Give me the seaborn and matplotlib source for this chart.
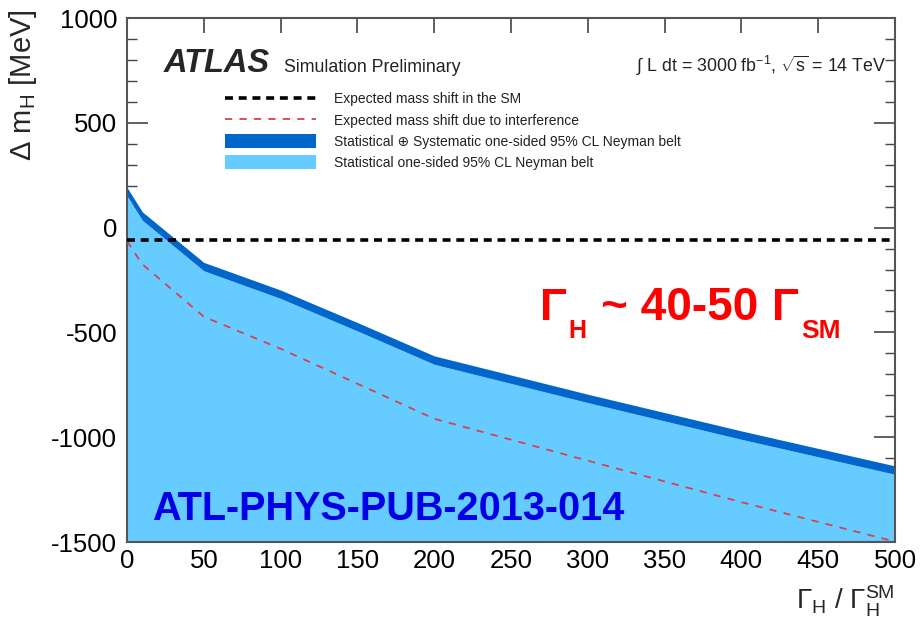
import numpy as np
import pandas as pd
import matplotlib
matplotlib.use("Agg")
import matplotlib.pyplot as plt
from matplotlib.lines import Line2D
from matplotlib.patches import Patch
from matplotlib.ticker import MultipleLocator
import seaborn as sns

# Width ratio Gamma_H / Gamma_H^SM
width_ratio = [0, 10, 50, 100, 150, 200, 300, 400, 500]
# Neyman belt edges [MeV]
belt_syst_upper = [192, 75, -166, -298, -453, -612, -795, -970, -1137]
belt_stat_upper = [152, 35, -206, -338, -493, -652, -835, -1010, -1177]
# Expected mass shift due to interference [MeV]
shift_interference = [-65, -175, -425, -578, -745, -912, -1112, -1310, -1498]
# Expected mass shift in the SM [MeV]
sm_ratio = [0, 500]
shift_sm = [-60, -60]

legend_labels = [
    "Expected mass shift in the SM",
    "Expected mass shift due to interference",
    "Statistical \u2295 Systematic one-sided 95% CL Neyman belt",
    "Statistical one-sided 95% CL Neyman belt",
]

sns.set_theme(style="ticks")
plt.rcParams["font.family"] = ["Liberation Sans", "DejaVu Sans"]
plt.rcParams["mathtext.fontset"] = "custom"
plt.rcParams["mathtext.rm"] = "Liberation Sans"
plt.rcParams["mathtext.it"] = "Liberation Sans:italic"
plt.rcParams["mathtext.bf"] = "Liberation Sans:bold"
plt.rcParams["axes.unicode_minus"] = False

DARK = "#0066CC"
LIGHT = "#66CCFF"
RED = "#D9404F"

fig = plt.figure(figsize=(9.21, 6.25), dpi=100)
ax = fig.add_axes([127 / 921, 1 - 542 / 625, (895 - 127) / 921, (542 - 18) / 625])

x = np.array(width_ratio, dtype=float)
ax.fill_between(x, -1500, belt_stat_upper, color=LIGHT, lw=0, zorder=1)
ax.fill_between(x, belt_stat_upper, belt_syst_upper, color=DARK, lw=0, zorder=2)

df_int = pd.DataFrame({"ratio": width_ratio, "shift": shift_interference})
df_sm = pd.DataFrame({"ratio": sm_ratio, "shift": shift_sm})
sns.lineplot(data=df_int, x="ratio", y="shift", ax=ax, color=RED, lw=1.3,
             zorder=3)
ax.lines[-1].set_dashes([4, 4])
sns.lineplot(data=df_sm, x="ratio", y="shift", ax=ax, color="black", lw=2.6,
             zorder=4)
ax.lines[-1].set_dashes([2.2, 1.6])

ax.set_xlim(0, 500)
ax.set_ylim(-1500, 1000)
ax.xaxis.set_major_locator(MultipleLocator(50))
ax.yaxis.set_major_locator(MultipleLocator(500))
ax.yaxis.set_minor_locator(MultipleLocator(100))
ax.tick_params(axis="both", which="both", direction="in", top=True, right=True,
               color="#444444", labelsize=18.5, labelcolor="black")
ax.tick_params(axis="y", which="major", length=15, width=1.2, pad=7)
ax.tick_params(axis="y", which="minor", length=7.5, width=1.0)
ax.tick_params(axis="x", which="major", length=11, width=1.2, pad=5)
for sp in ax.spines.values():
    sp.set_color("#555555")
    sp.set_linewidth(1.5)

ax.set_xlabel(r"$\Gamma_{\rm H}$ / $\Gamma_{\rm H}^{\rm SM}$", fontsize=20,
              loc="right", labelpad=8)
ax.set_ylabel(r"$\Delta$ m$_{\rm H}$ [MeV]", fontsize=21)
ax.yaxis.set_label_coords(-0.115, 0.872)

# Header texts
ax.text(0.048, 0.897, "ATLAS", transform=ax.transAxes, fontsize=23.5,
        fontweight="bold", fontstyle="italic", va="baseline")
ax.text(0.205, 0.897, "Simulation Preliminary", transform=ax.transAxes,
        fontsize=12.8, va="baseline", color="#222222")
ax.text(0.988, 0.897, r"$\int$ L dt = 3000 fb$^{-1}$, $\sqrt{\rm s}$ = 14 TeV",
        transform=ax.transAxes, fontsize=12.8, ha="right", va="baseline",
        color="#222222")

handles = [
    Line2D([], [], color="black", lw=2.6, dashes=[2.2, 1.6]),
    Line2D([], [], color=RED, lw=1.3, dashes=[4, 4]),
    Patch(facecolor=DARK, edgecolor="none"),
    Patch(facecolor=LIGHT, edgecolor="none"),
]
ax.legend(handles, legend_labels, loc="upper left", bbox_to_anchor=(0.121, 0.87),
          frameon=False, fontsize=10, handlelength=6.5, handleheight=1.2,
          handletextpad=1.3, labelspacing=0.45, borderaxespad=0,
          labelcolor="#222222")

# Annotations
ax.text(0.033, 0.042, "ATL-PHYS-PUB-2013-014", transform=ax.transAxes,
        fontsize=28.5, fontweight="bold", color="#0000E6", va="baseline")
red_kw = dict(transform=fig.transFigure, color="red", fontweight="bold",
              va="baseline")
fig.text(540 / 921, 1 - 320 / 625, "\u0393", fontsize=32, **red_kw)
fig.text(568 / 921, 1 - 338 / 625, "H", fontsize=18, **red_kw)
fig.text(601 / 921, 1 - 320 / 625, "~ 40-50", fontsize=33, **red_kw)
fig.text(772 / 921, 1 - 320 / 625, "\u0393", fontsize=32, **red_kw)
fig.text(801 / 921, 1 - 338 / 625, "SM", fontsize=19, **red_kw)

fig.savefig("out.png", dpi=100)
